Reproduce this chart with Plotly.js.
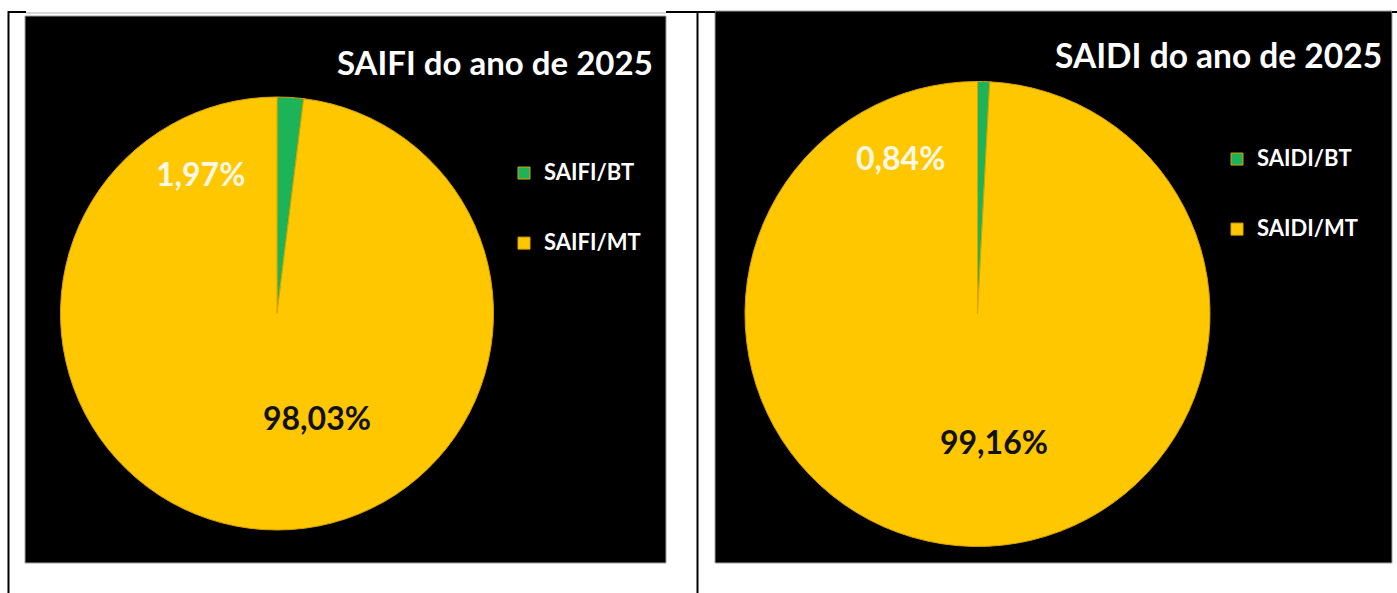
<!DOCTYPE html>
<html>
<head>
<meta charset="utf-8">
<script src="https://cdn.plot.ly/plotly-3.0.1.min.js"></script>
<style>html,body{margin:0;padding:0;background:#fff;}#chart{width:1397px;height:593px;}</style>
</head>
<body>
<div id="chart"></div>
<script>
// ---- data ----
const saifiTitle = "SAIFI do ano de 2025";
const saidiTitle = "SAIDI do ano de 2025";
const saifiCategories = ["SAIFI/BT", "SAIFI/MT"];
const saifiValues = [1.97, 98.03];
const saidiCategories = ["SAIDI/BT", "SAIDI/MT"];
const saidiValues = [0.84, 99.16];
const sliceColors = ["#1DB358", "#FFC700"];

// ---- helpers ----
const W = 1397, H = 593;
const px = x => x / W;
const py = y => 1 - y / H;
const fmt = v => v.toFixed(2).replace(".", ",") + "%";
const legendLabel = c => "&nbsp;<br><span style='font-size:22px'>" + c + "</span><br>&nbsp;";

const FONT = "Lato, 'Open Sans', 'DejaVu Sans', sans-serif";

const traces = [
  {
    type: "pie",
    labels: saifiCategories.map(legendLabel),
    values: saifiValues,
    sort: false,
    direction: "clockwise",
    rotation: 0,
    textinfo: "none",
    hoverinfo: "none",
    marker: {colors: sliceColors, line: {color: "#D9A300", width: 1}},
    domain: {x: [px(57), px(497)], y: [py(530), py(97)]},
    legend: "legend"
  },
  {
    type: "pie",
    labels: saidiCategories.map(legendLabel),
    values: saidiValues,
    sort: false,
    direction: "clockwise",
    rotation: 0,
    textinfo: "none",
    hoverinfo: "none",
    marker: {colors: sliceColors, line: {color: "#D9A300", width: 1}},
    domain: {x: [px(745), px(1210)], y: [py(548), py(80)]},
    legend: "legend2"
  }
];

const legendStyle = (x, y) => ({
  x: px(x), y: py(y), xanchor: "left", yanchor: "top",
  bgcolor: "rgba(0,0,0,0)",
  font: {family: FONT, size: 17.2, color: "#FFFFFF", weight: "bold"},
  valign: "middle",
  traceorder: "normal"
});

const shapes = [
  // table borders
  {type: "line", xref: "paper", yref: "paper", x0: px(8.5), x1: px(8.5), y0: py(11), y1: py(593), line: {color: "#000", width: 2}},
  {type: "line", xref: "paper", yref: "paper", x0: px(697.5), x1: px(697.5), y0: py(11), y1: py(593), line: {color: "#000", width: 2}},
  {type: "line", xref: "paper", yref: "paper", x0: px(8), x1: px(26), y0: py(12), y1: py(12), line: {color: "#000", width: 2}},
  {type: "line", xref: "paper", yref: "paper", x0: px(26), x1: px(666), y0: py(13), y1: py(13), line: {color: "#B0B0B0", width: 1}},
  {type: "line", xref: "paper", yref: "paper", x0: px(666), x1: px(715), y0: py(12), y1: py(12), line: {color: "#000", width: 2}},
  {type: "line", xref: "paper", yref: "paper", x0: px(1392), x1: px(1397), y0: py(12), y1: py(12), line: {color: "#000", width: 2}},
  // black panels
  {type: "rect", xref: "paper", yref: "paper", x0: px(25), x1: px(666), y0: py(563), y1: py(16), fillcolor: "#000", line: {color: "#A0A0A0", width: 1}, layer: "below"},
  {type: "rect", xref: "paper", yref: "paper", x0: px(715), x1: px(1392), y0: py(563), y1: py(11), fillcolor: "#000", line: {color: "#A0A0A0", width: 1}, layer: "below"}
];

const ann = (text, x, y, size, color, xanchor) => ({
  text: "<b>" + text + "</b>", xref: "paper", yref: "paper",
  x: px(x), y: py(y), xanchor: xanchor || "center", yanchor: "middle",
  showarrow: false, font: {family: FONT, size: size, color: color}
});

const annotations = [
  ann(saifiTitle, 655, 62, 33, "#FFFFFF", "right"),
  ann(saidiTitle, 1384, 55, 33.5, "#FFFFFF", "right"),
  ann(fmt(saifiValues[0]), 200, 174, 32, "#FFF8E6"),
  ann(fmt(saifiValues[1]), 317, 417, 32, "#111111"),
  ann(fmt(saidiValues[0]), 900, 157, 32, "#FFF8E6"),
  ann(fmt(saidiValues[1]), 994, 441, 32, "#111111")
];

const layout = {
  width: W, height: H,
  margin: {l: 0, r: 0, t: 0, b: 0},
  paper_bgcolor: "#FFFFFF",
  plot_bgcolor: "#FFFFFF",
  showlegend: true,
  legend: legendStyle(504, 133),
  legend2: legendStyle(1217, 119),
  shapes: shapes,
  annotations: annotations
};

Plotly.newPlot("chart", traces, layout, {displayModeBar: false, staticPlot: true});
</script>
</body>
</html>
